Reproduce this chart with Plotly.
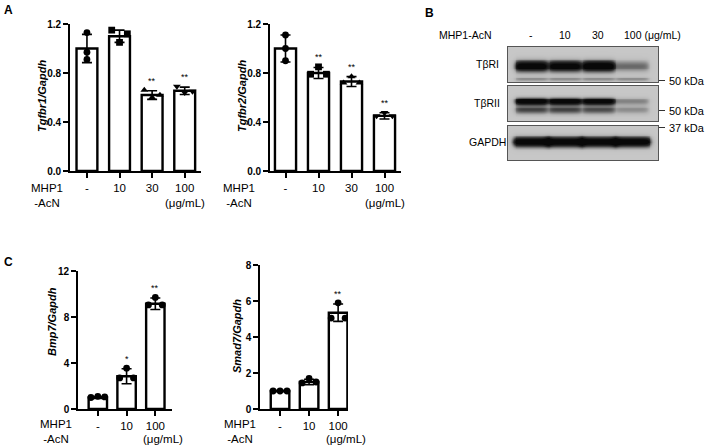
import numpy as np
import plotly.graph_objects as go

W, H = 708, 446
FONT = "Liberation Sans, Arial, sans-serif"

# ---------------- data ----------------
a_doses = ["-", "10", "30", "100"]
c_doses = ["-", "10", "100"]

# replicate points listed as (center, left, right)
tgfbr1_mean = [1.00, 1.10, 0.62, 0.655]
tgfbr1_sd = [0.115, 0.05, 0.035, 0.03]
tgfbr1_pts = [[1.13, 0.97, 0.91], [1.05, 1.15, 1.12], [0.60, 0.66, 0.62], [0.64, 0.69, 0.65]]
tgfbr1_sig = ["", "", "**", "**"]

tgfbr2_mean = [1.00, 0.80, 0.73, 0.45]
tgfbr2_sd = [0.11, 0.045, 0.04, 0.025]
tgfbr2_pts = [[1.11, 1.00, 0.90], [0.85, 0.79, 0.79], [0.77, 0.72, 0.72], [0.475, 0.45, 0.45]]
tgfbr2_sig = ["", "**", "**", "**"]

bmp7_mean = [1.00, 2.85, 9.15]
bmp7_sd = [0.08, 0.65, 0.5]
bmp7_pts = [[1.10, 1.00, 1.05], [3.55, 2.70, 2.70], [9.70, 9.05, 9.05]]
bmp7_sig = ["", "*", "**"]

smad7_mean = [1.00, 1.50, 5.35]
smad7_sd = [0.03, 0.15, 0.48]
smad7_pts = [[1.00, 1.00, 1.00], [1.70, 1.45, 1.50], [5.90, 5.05, 5.05]]
smad7_sig = ["", "", "**"]

# western blot: relative band intensities per lane
blot_lanes = ["-", "10", "30", "100 (μg/mL)"]
tbr1_main = [0.95, 0.92, 1.00, 0.33]
tbr1_low = [0.22, 0.22, 0.22, 0.22]
tbr2_upper = [0.97, 0.95, 0.92, 0.25]
tbr2_lower = [0.45, 0.45, 0.42, 0.22]
gapdh_band = [1.00, 1.00, 1.00, 1.00]

# ---------------- helpers ----------------
def xd(a, b):
    return [a / W, b / W]

def yd(top, bottom):
    return [1 - bottom / H, 1 - top / H]

fig = go.Figure()
layout = dict(template="none", width=W, height=H, margin=dict(l=0, r=0, t=0, b=0, pad=0),
              paper_bgcolor="white", plot_bgcolor="white", showlegend=False,
              font=dict(family=FONT, color="black"))
annotations = []
SPREAD = [0.0, -0.24, 0.24]   # center, left, right jitter
STACK = [0.0, 0.0, 0.0]       # vertical stack


def ann(**kw):
    kw.setdefault("showarrow", False)
    kw.setdefault("xanchor", "center")
    kw.setdefault("yanchor", "middle")
    annotations.append(kw)


def bar_panel(idx, doses, mean, sd, pts, sig, symbols, jit, xdom, ydom, xrange, yrange,
              ytickvals, yticktext, ytitle, title_xy, mhp_x, lab_y, unit_shift):
    xa = "x" if idx == 1 else f"x{idx}"
    ya = "y" if idx == 1 else f"y{idx}"
    xs = list(range(len(doses)))
    fig.add_trace(go.Bar(x=xs, y=mean, width=0.64, xaxis=xa, yaxis=ya,
                         marker=dict(color="white", line=dict(color="black", width=2.4)),
                         error_y=dict(type="data", array=sd, visible=True, color="black",
                                      thickness=1.6, width=5)))
    for i, p in enumerate(pts):
        fig.add_trace(go.Scatter(x=[i + o for o in jit[i]], y=p, mode="markers",
                                 xaxis=xa, yaxis=ya,
                                 marker=dict(symbol=symbols[i], size=6.8, color="black",
                                             line=dict(width=0))))
    for i, s in enumerate(sig):
        if s:
            ann(x=i, y=mean[i] + sd[i], xref=xa, yref=ya, text=s, yanchor="bottom", yshift=3,
                font=dict(size=9, family=FONT))
    key = "" if idx == 1 else str(idx)
    layout["xaxis" + key] = dict(domain=xd(*xdom), anchor=ya, range=xrange, automargin=False,
                                 tickvals=xs, ticktext=doses, showline=True, linecolor="black",
                                 linewidth=1.6, ticks="outside", ticklen=5, tickwidth=1.6,
                                 tickcolor="black", showgrid=False, zeroline=False,
                                 tickfont=dict(size=11.5, family=FONT))
    layout["yaxis" + key] = dict(domain=yd(*ydom), anchor=xa, range=yrange, automargin=False,
                                 tickvals=ytickvals, ticktext=yticktext, showline=True,
                                 linecolor="black", linewidth=1.6, ticks="outside", ticklen=5,
                                 tickwidth=1.6, tickcolor="black", showgrid=False,
                                 zeroline=False,
                                 tickfont=dict(size=10, family=FONT, weight="bold"))
    ann(x=title_xy[0] / W, y=1 - title_xy[1] / H, xref="paper", yref="paper",
        text=f"<b><i>{ytitle}</i></b>", textangle=-90, font=dict(size=11, family=FONT))
    ann(x=mhp_x / W, y=1 - lab_y / H, xref="paper", yref="paper", text="MHP1<br>-AcN",
        align="center", font=dict(size=11.5, family=FONT))
    ann(x=len(doses) - 1, y=1 - (lab_y + 8) / H, xref=xa, yref="paper", text="(μg/mL)",
        xshift=unit_shift, font=dict(size=11.5, family=FONT))


sym4 = ["circle", "square", "triangle-up", "triangle-down"]
sym3 = ["circle", "circle", "circle"]

bar_panel(1, a_doses, tgfbr1_mean, tgfbr1_sd, tgfbr1_pts, tgfbr1_sig, sym4,
          [STACK, SPREAD, SPREAD, SPREAD],
          (70, 201), (24, 171), [-0.52, 3.5], [0, 1.2],
          [0, 0.4, 0.8, 1.2], ["0.0", "0.4", "0.8", "1.2"], "Tgfbr1/Gapdh",
          (42, 96), 47, 195, 0)
bar_panel(2, a_doses, tgfbr2_mean, tgfbr2_sd, tgfbr2_pts, tgfbr2_sig, sym4,
          [STACK, SPREAD, SPREAD, SPREAD],
          (270, 401), (24, 171), [-0.47, 3.5], [0, 1.2],
          [0, 0.4, 0.8, 1.2], ["0.0", "0.4", "0.8", "1.2"], "Tgfbr2/Gapdh",
          (242, 96), 239, 195, 0)
bar_panel(3, c_doses, bmp7_mean, bmp7_sd, bmp7_pts, bmp7_sig, sym3,
          [SPREAD, SPREAD, SPREAD],
          (78, 172), (271, 409), [-0.69, 2.58], [0, 12],
          [0, 4, 8, 12], ["0", "4", "8", "12"], "Bmp7/Gapdh",
          (52, 322), 56, 431, 8)
bar_panel(4, c_doses, smad7_mean, smad7_sd, smad7_pts, smad7_sig, sym3,
          [SPREAD, SPREAD, SPREAD],
          (260, 348), (265, 409), [-0.69, 2.34], [0, 8],
          [0, 2, 4, 6, 8], ["0", "2", "4", "6", "8"], "Smad7/Gapdh",
          (237, 336), 240, 431, 8)

# ---------------- western blot ----------------
gx = np.linspace(-0.68, 3.77, 160)
gy = np.linspace(0, 1, 40)
GX, GY = np.meshgrid(gx, gy)


def lane_profile(i, hw=0.46, s=0.045):
    return 1.0 / (1.0 + np.exp((np.abs(GX - i) - hw) / s))


def band_img(bands):
    z = np.full(GX.shape, 0.2)
    for inten, yc, sig, hw in bands:
        for i, v in enumerate(inten):
            z = z + v * lane_profile(i, hw) * np.exp(-0.5 * ((GY - yc) / sig) ** 2)
    return np.clip(z, 0, 1)


blot_rows = [
    ("TβRI", band_img([(tbr1_main, 0.46, 0.11, 0.47), (tbr1_low, 0.09, 0.045, 0.47)]), (47, 82)),
    ("TβRII", band_img([(tbr2_upper, 0.57, 0.07, 0.47), (tbr2_lower, 0.33, 0.08, 0.47)]), (86, 121)),
    ("GAPDH", band_img([(gapdh_band, 0.54, 0.10, 0.53)]), (126, 160)),
]
cs = [[0, "#ececec"], [0.3, "#b4b4b4"], [0.7, "#303030"], [1, "#080808"]]
for k, (name, z, (top, bot)) in enumerate(blot_rows):
    idx = 5 + k
    fig.add_trace(go.Heatmap(x=gx, y=gy, z=z, colorscale=cs, zmin=0, zmax=1,
                             showscale=False, zsmooth="best", xaxis=f"x{idx}", yaxis=f"y{idx}",
                             hoverinfo="skip"))
    layout[f"xaxis{idx}"] = dict(domain=xd(508, 658), anchor=f"y{idx}", range=[-0.68, 3.77],
                                 showline=True, mirror=True, linecolor="#555", linewidth=1,
                                 automargin=False,
                                 showticklabels=False, ticks="", showgrid=False, zeroline=False)
    layout[f"yaxis{idx}"] = dict(domain=yd(top, bot), anchor=f"x{idx}", range=[0, 1],
                                 showline=True, mirror=True, linecolor="#555", linewidth=1,
                                 automargin=False,
                                 showticklabels=False, ticks="", showgrid=False, zeroline=False)
    ann(x=487 / W, y=1 - ((top + bot) / 2 - 1) / H, xref="paper", yref="paper", text=name,
        font=dict(size=10.5, family=FONT))

# lane header
ann(x=465 / W, y=1 - 35 / H, xref="paper", yref="paper", text="MHP1-AcN",
    font=dict(size=10.5, family=FONT))
for i, lab in enumerate(blot_lanes):
    ann(x=i if i < 3 else i - 0.3, y=1 - 35 / H, xref="x5", yref="paper", text=lab,
        xanchor="center" if i < 3 else "left", font=dict(size=10.5, family=FONT))

# molecular weight markers
mw = [("50 kDa", 80.5), ("50 kDa", 110.5), ("37 kDa", 127.5)]
shapes = []
for lab, yy in mw:
    shapes.append(dict(type="line", xref="paper", yref="paper", x0=659 / W, x1=665 / W,
                       y0=1 - yy / H, y1=1 - yy / H, line=dict(color="#333", width=1)))
    ann(x=667 / W, y=1 - yy / H, xref="paper", yref="paper", text=lab, xanchor="left",
        font=dict(size=11, family=FONT))

# panel letters
for lab, x, y in [("A", 8, 10), ("B", 429, 13), ("C", 8, 262)]:
    ann(x=x / W, y=1 - y / H, xref="paper", yref="paper", text=f"<b>{lab}</b>",
        font=dict(size=12, family=FONT))

layout["annotations"] = annotations
layout["shapes"] = shapes
fig.update_layout(**layout)
fig.write_html("out.html", config={"displayModeBar": False},
               post_script="document.body.style.margin='0';document.body.style.overflow='hidden';")
